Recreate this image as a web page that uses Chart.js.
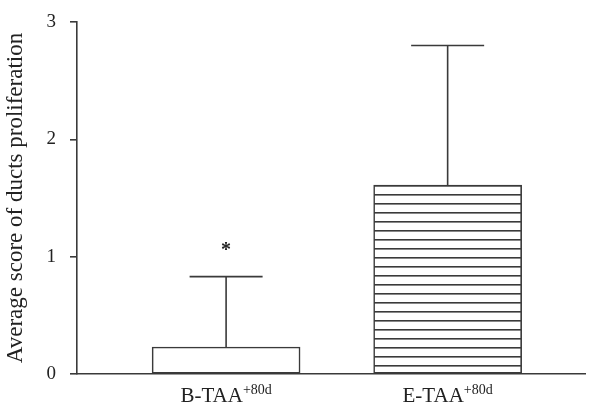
<!DOCTYPE html>
<html lang="en">
<head>
    <meta charset="UTF-8">
    <title>Ducts proliferation</title>
    <style>
        body { margin: 0; background: #fff; }
        #wrap { width: 597px; height: 413px; }
    </style>
</head>
<body>
    <div id="wrap"><canvas id="myChart"></canvas></div>
    <script src="https://cdn.jsdelivr.net/npm/chart.js"></script>
    <script>
// data
const groups = ['B-TAA', 'E-TAA'];
const groupSup = ['+80d', '+80d'];
const groupPos = [1, 2];
const means = [0.23, 1.61];
const errUp = [0.60, 1.19];   // upper error (SD)
const marks = ['*', ''];
const yTicks = [0, 1, 2, 3];

const ink = '#3a3a3a';
const serif = "'Liberation Serif', 'DejaVu Serif', serif";

// horizontal line hatch for the second bar
function makeHatch() {
    const c = document.createElement('canvas');
    c.width = 10; c.height = 9;
    const g = c.getContext('2d');
    g.fillStyle = '#fff';
    g.fillRect(0, 0, 10, 9);
    g.fillStyle = ink;
    g.fillRect(0, 5, 10, 1.6);
    return g.createPattern(c, 'repeat');
}

const ctx = document.getElementById('myChart').getContext('2d');
const hatch = makeHatch();

// error bars, asterisk and x labels with superscript
const extras = {
    id: 'extras',
    afterDatasetsDraw(chart) {
        const x = chart.scales.x, y = chart.scales.y, c = chart.ctx;
        c.save();
        c.strokeStyle = ink;
        c.lineWidth = 1.6;
        groupPos.forEach((p, i) => {
            const px = x.getPixelForValue(p);
            const y0 = y.getPixelForValue(means[i]);
            const y1 = y.getPixelForValue(means[i] + errUp[i]);
            c.beginPath();
            c.moveTo(px, y0); c.lineTo(px, y1);
            c.moveTo(px - 36.5, y1); c.lineTo(px + 36.5, y1);
            c.stroke();
            if (marks[i]) {
                c.fillStyle = '#222';
                c.font = 'bold 20px ' + serif;
                c.textAlign = 'center';
                c.textBaseline = 'middle';
                c.fillText(marks[i], px, y1 - 26);
            }
            // label
            c.fillStyle = '#222';
            c.textBaseline = 'alphabetic';
            c.textAlign = 'left';
            c.font = '21px ' + serif;
            const w1 = c.measureText(groups[i]).width;
            c.font = '14px ' + serif;
            const w2 = c.measureText(groupSup[i]).width;
            const sx = px - (w1 + w2) / 2;
            c.font = '21px ' + serif;
            c.fillText(groups[i], sx, 402);
            c.font = '14px ' + serif;
            c.fillText(groupSup[i], sx + w1, 394);
        });
        c.restore();
    }
};

new Chart(ctx, {
    type: 'bar',
    data: {
        datasets: [{
            data: groupPos.map((p, i) => ({ x: p, y: means[i] })),
            backgroundColor: ['#fff', hatch],
            borderColor: ink,
            borderWidth: 1.6,
            borderSkipped: false,
            barThickness: 148
        }]
    },
    options: {
        responsive: true,
        maintainAspectRatio: false,
        animation: false,
        layout: { padding: { top: 22, right: 12, left: 0, bottom: 0 } },
        plugins: { legend: { display: false }, tooltip: { enabled: false } },
        scales: {
            x: {
                type: 'linear',
                offset: false,
                min: 0.327,
                max: 2.62,
                grid: { display: false, drawTicks: false, offset: false },
                border: { color: ink, width: 1.6 },
                ticks: { display: false },
                afterFit(s) { s.height = 39; s.paddingLeft = 0; s.paddingRight = 0; }
            },
            y: {
                min: 0,
                max: 3,
                afterBuildTicks(s) { s.ticks = yTicks.map(v => ({ value: v })); },
                grid: { drawOnChartArea: false, tickLength: 7, color: ink, lineWidth: 1.6 },
                border: { color: ink, width: 1.6 },
                ticks: {
                    padding: 14,
                    color: '#222',
                    font: { family: serif, size: 19 }
                },
                title: {
                    display: true,
                    text: 'Average score of ducts proliferation',
                    color: '#222',
                    font: { family: serif, size: 23 },
                    padding: { top: 2, bottom: 0 }
                },
                afterFit(s) { s.width = 77; s.paddingTop = 0; s.paddingBottom = 0; }
            }
        }
    },
    plugins: [extras]
});
    </script>
</body>
</html>
